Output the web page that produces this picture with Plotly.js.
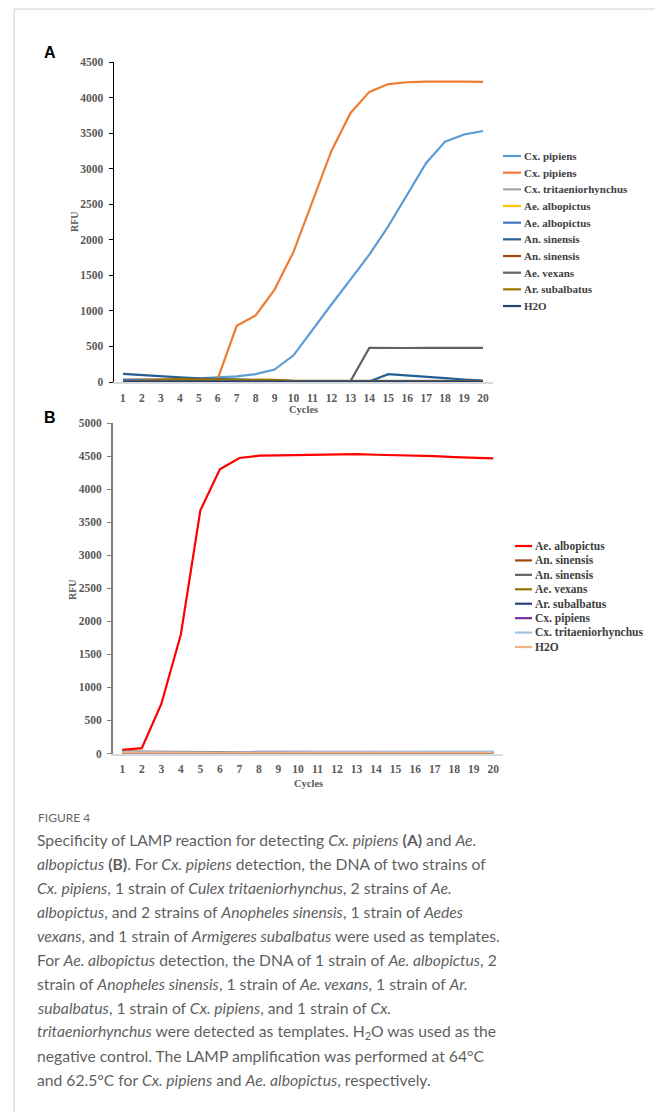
<!DOCTYPE html>
<html>
<head>
<meta charset="utf-8">
<script src="https://cdn.plot.ly/plotly-3.0.1.min.js"></script>
<style>html,body{margin:0;padding:0;background:#fff;}#chart{width:655px;height:1112px;}</style>
</head>
<body>
<div id="chart"></div>
<script>
// ---------- data ----------
var cycles = [1,2,3,4,5,6,7,8,9,10,11,12,13,14,15,16,17,18,19,20];

// Panel A (Cx. pipiens LAMP)
var namesA = ["Cx. pipiens","Cx. pipiens","Cx. tritaeniorhynchus","Ae. albopictus","Ae. albopictus",
              "An. sinensis","An. sinensis","Ae. vexans","Ar. subalbatus","H2O"];
var colorsA = ["#5B9BD5","#ED7D31","#A5A5A5","#FFC000","#4472C4","#255E91","#9E480E","#636363","#997300","#264478"];
var A_cxp1 = [30,32,35,40,50,60,80,110,175,375,740,1090,1440,1790,2190,2630,3080,3380,3480,3530];
var A_cxp2 = [30,30,30,35,40,45,790,935,1300,1830,2550,3250,3780,4080,4190,4215,4225,4228,4225,4220];
var A_cxt  = [20,20,20,20,20,20,20,20,18,15,15,15,15,15,15,15,15,15,15,15];
var A_aea1 = [15,15,18,22,25,25,25,20,15,10,10,10,10,10,10,10,10,10,10,10];
var A_aea2 = [30,30,30,28,25,20,15,12,10,10,10,10,10,10,10,10,10,10,10,10];
var A_ans1 = [115,95,80,65,50,40,30,22,15,10,8,8,8,8,110,95,75,55,35,18];
var A_ans2 = [10,10,10,10,10,10,10,10,10,10,10,10,10,10,10,10,12,12,12,12];
var A_aev  = [10,10,10,10,10,10,10,10,10,10,10,10,10,480,475,478,480,480,478,480];
var A_ars  = [10,15,25,40,40,40,40,35,30,15,10,10,10,10,10,10,10,10,10,10];
var A_h2o  = [5,5,5,5,5,5,5,5,5,5,5,5,5,5,5,5,5,5,5,5];
var seriesA = [A_cxp1,A_cxp2,A_cxt,A_aea1,A_aea2,A_ans1,A_ans2,A_aev,A_ars,A_h2o];

// Panel B (Ae. albopictus LAMP)
var namesB = ["Ae. albopictus","An. sinensis","An. sinensis","Ae. vexans","Ar. subalbatus",
              "Cx. pipiens","Cx. tritaeniorhynchus","H2O"];
var colorsB = ["#FF0000","#9E480E","#636363","#997300","#264478","#7030A0","#9DC3E6","#F4B183"];
var B_aea  = [55,80,750,1800,3680,4300,4470,4505,4510,4515,4525,4535,4530,4520,4515,4505,4500,4485,4480,4465];
var B_ans1 = [30,28,20,15,12,10,10,10,10,10,10,10,10,10,10,10,10,10,10,10];
var B_ans2 = [12,12,12,12,12,12,12,12,12,12,12,12,12,12,12,12,12,12,12,12];
var B_aev  = [25,20,15,12,10,10,10,10,10,10,10,10,10,10,10,10,10,10,10,10];
var B_ars  = [15,15,15,15,15,15,15,15,15,15,15,15,15,15,15,15,15,15,15,15];
var B_cxp  = [10,10,10,10,10,10,15,25,25,25,25,22,22,20,22,22,20,20,20,22];
var B_cxt  = [20,18,15,12,12,15,18,18,18,20,20,20,18,18,20,22,25,25,25,28];
var B_h2o  = [8,8,8,8,8,8,8,8,8,8,8,8,8,8,8,8,8,8,8,8];
var seriesB = [B_aea,B_ans1,B_ans2,B_aev,B_ars,B_cxp,B_cxt,B_h2o];

var yTicksA = [0,500,1000,1500,2000,2500,3000,3500,4000,4500];
var yTicksB = [0,500,1000,1500,2000,2500,3000,3500,4000,4500,5000];

// ---------- layout helpers ----------
var W = 655, H = 1112;
function px(x){ return x / W; }
function py(y){ return 1 - y / H; }

var serif = "Liberation Serif, Times New Roman, serif";
var capFont = "Lato, Open Sans, sans-serif";
var tickCol = "#595959";

var traces = [];
seriesA.forEach(function(s, i){
  traces.push({x: cycles, y: s, type: "scatter", mode: "lines", name: namesA[i],
    line: {color: colorsA[i], width: 2.2}, xaxis: "x", yaxis: "y", showlegend: false, hoverinfo: "skip"});
});
seriesB.forEach(function(s, i){
  traces.push({x: cycles, y: s, type: "scatter", mode: "lines", name: namesB[i],
    line: {color: colorsB[i], width: 2.2}, xaxis: "x2", yaxis: "y2", showlegend: false, hoverinfo: "skip"});
});

var annotations = [];
var shapes = [];

function legendBlock(names, colors, x0, x1, y0, dy, fsize){
  names.forEach(function(n, i){
    var yy = y0 + i * dy;
    shapes.push({type: "line", xref: "paper", yref: "paper", x0: px(x0), x1: px(x1), y0: py(yy), y1: py(yy),
      line: {color: colors[i], width: 2.2}});
    annotations.push({xref: "paper", yref: "paper", x: px(x1 + 0.5), y: py(yy), xanchor: "left", yanchor: "middle",
      text: "<b>" + n + "</b>", showarrow: false, font: {family: serif, size: fsize, color: "#404040"}});
  });
}
legendBlock(namesA, colorsA, 503, 521, 156, 16.67, 11);
legendBlock(namesB, colorsB, 515, 532, 546, 14.43, 11.5);

// panel letters
annotations.push({xref:"paper",yref:"paper",x:px(50),y:py(52),xanchor:"center",yanchor:"middle",text:"<b>A</b>",
  showarrow:false,font:{family:"Liberation Sans, Arial, sans-serif",size:16,color:"#000"}});
annotations.push({xref:"paper",yref:"paper",x:px(50),y:py(417),xanchor:"center",yanchor:"middle",text:"<b>B</b>",
  showarrow:false,font:{family:"Liberation Sans, Arial, sans-serif",size:16,color:"#000"}});

// axis titles
annotations.push({xref:"paper",yref:"paper",x:px(303),y:py(410),xanchor:"center",yanchor:"middle",text:"<b>Cycles</b>",
  showarrow:false,font:{family:serif,size:10.5,color:tickCol}});
annotations.push({xref:"paper",yref:"paper",x:px(308),y:py(783),xanchor:"center",yanchor:"middle",text:"<b>Cycles</b>",
  showarrow:false,font:{family:serif,size:10.5,color:tickCol}});
annotations.push({xref:"paper",yref:"paper",x:px(75),y:py(222),xanchor:"center",yanchor:"middle",text:"<b>RFU</b>",
  textangle:-90,showarrow:false,font:{family:serif,size:10,color:tickCol}});
annotations.push({xref:"paper",yref:"paper",x:px(72),y:py(590),xanchor:"center",yanchor:"middle",text:"<b>RFU</b>",
  textangle:-90,showarrow:false,font:{family:serif,size:10,color:tickCol}});

// caption
annotations.push({xref:"paper",yref:"paper",x:px(36),y:py(817),xanchor:"left",yanchor:"middle",text:"FIGURE 4",
  showarrow:false,font:{family:capFont,size:12,color:"#666666"}});
var capLines = [
  "Specificity of LAMP reaction for detecting <i>Cx. pipiens</i> <b>(A)</b> and <i>Ae.</i>",
  "<i>albopictus</i> <b>(B)</b>. For <i>Cx. pipiens</i> detection, the DNA of two strains of",
  "<i>Cx. pipiens</i>, 1 strain of <i>Culex tritaeniorhynchus</i>, 2 strains of <i>Ae.</i>",
  "<i>albopictus</i>, and 2 strains of <i>Anopheles sinensis</i>, 1 strain of <i>Aedes</i>",
  "<i>vexans</i>, and 1 strain of <i>Armigeres subalbatus</i> were used as templates.",
  "For <i>Ae. albopictus</i> detection, the DNA of 1 strain of <i>Ae. albopictus</i>, 2",
  "strain of <i>Anopheles sinensis</i>, 1 strain of <i>Ae. vexans</i>, 1 strain of <i>Ar.</i>",
  "<i>subalbatus</i>, 1 strain of <i>Cx. pipiens</i>, and 1 strain of <i>Cx.</i>",
  "<i>tritaeniorhynchus</i> were detected as templates. H<sub>2</sub>O was used as the",
  "negative control. The LAMP amplification was performed at 64°C",
  "and 62.5°C for <i>Cx. pipiens</i> and <i>Ae. albopictus</i>, respectively."
];
capLines.forEach(function(t, i){
  annotations.push({xref:"paper",yref:"paper",x:px(35),y:py(840 + i*24.04),xanchor:"left",yanchor:"middle",text:t,
    showarrow:false,font:{family:capFont,size:15.7,color:"#5f5f5f"}});
});

// frame lines
shapes.push({type:"line",xref:"paper",yref:"paper",x0:px(14),x1:px(14),y0:py(9),y1:0,line:{color:"#d0d0d0",width:1}});
shapes.push({type:"line",xref:"paper",yref:"paper",x0:px(14),x1:1,y0:py(9),y1:py(9),line:{color:"#d0d0d0",width:1}});

var tickFont = {family: serif, size: 11.5, color: tickCol, weight: "bold"};

var layout = {
  width: W, height: H,
  margin: {l:0, r:0, t:0, b:0},
  paper_bgcolor: "#fff", plot_bgcolor: "rgba(0,0,0,0)",
  showlegend: false,
  xaxis: {domain:[px(113.5), px(492.5)], range:[0.5,20.5], tickvals: cycles, ticktext: cycles.map(String),
    showgrid:false, zeroline:false, showline:true, linecolor:"#d9d9d9", linewidth:2, ticks:"",
    tickfont: tickFont, anchor:"y", ticklabelstandoff: 4, fixedrange:true},
  yaxis: {domain:[py(382), py(62)], range:[0,4500], tickvals: yTicksA, showgrid:false, zeroline:false,
    showline:true, linecolor:"#000", linewidth:1, ticks:"outside", ticklen:4, tickcolor:"#000",
    tickfont: tickFont, anchor:"x", ticklabelstandoff: 3, fixedrange:true},
  xaxis2: {domain:[px(112.5), px(503)], range:[0.5,20.5], tickvals: cycles, ticktext: cycles.map(String),
    showgrid:false, zeroline:false, showline:true, linecolor:"#d9d9d9", linewidth:2, ticks:"",
    tickfont: tickFont, anchor:"y2", ticklabelstandoff: 4, fixedrange:true},
  yaxis2: {domain:[py(753.5), py(423)], range:[0,5000], tickvals: yTicksB, showgrid:false, zeroline:false,
    showline:true, linecolor:"#808080", linewidth:1.5, ticks:"outside", ticklen:4, tickcolor:"#808080",
    tickfont: tickFont, anchor:"x2", ticklabelstandoff: 3, fixedrange:true},
  annotations: annotations,
  shapes: shapes
};

Plotly.newPlot("chart", traces, layout, {staticPlot: true, displayModeBar: false});
</script>
</body>
</html>
